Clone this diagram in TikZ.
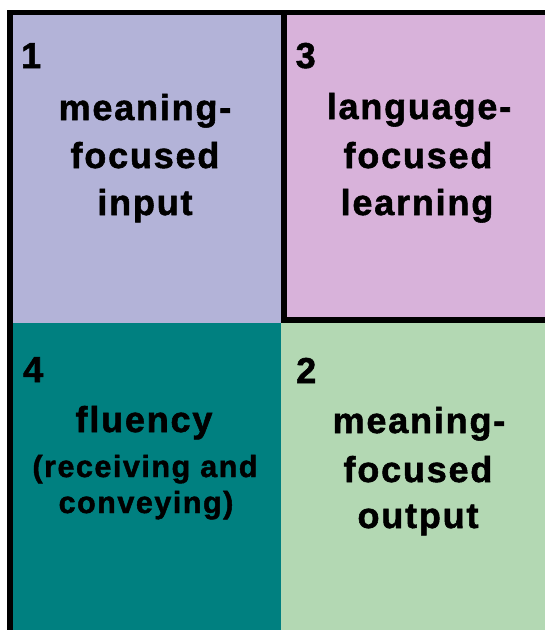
\documentclass[tikz,border=0pt]{standalone}
\usepackage{fontspec}
\newfontfamily\labfont{Liberation Sans}[LetterSpace=5,BoldFeatures={FakeBold=1.5}]
\definecolor{lav}{RGB}{179,179,216}
\definecolor{pinkq}{RGB}{216,178,218}
\definecolor{tealq}{RGB}{0,128,128}
\definecolor{greenq}{RGB}{179,216,179}
\begin{document}
\begin{tikzpicture}[x=1pt,y=-1pt,
  big/.style={anchor=base,inner sep=0pt,font=\labfont\bfseries\fontsize{36}{40}\selectfont},
  small/.style={anchor=base,inner sep=0pt,font=\labfont\bfseries\fontsize{30.5}{34}\selectfont},
  num/.style={anchor=base west,inner sep=0pt,font=\labfont\bfseries\fontsize{36}{40}\selectfont}]
\useasboundingbox (0,0) rectangle (545,630);
% quadrant fills
\fill[lav] (13,15) rectangle (281,323);
\fill[pinkq] (281,15) rectangle (545,323);
\fill[tealq] (13,323) rectangle (281,630);
\fill[greenq] (281,323) rectangle (545,630);
% black borders
\fill[black] (7,10) rectangle (545,15);
\fill[black] (7,10) rectangle (13,630);
\fill[black] (281,15) rectangle (287,323);
\fill[black] (281,317) rectangle (545,323);
% quadrant 1
\node[num] (n1) at (21,68) {1};
\node[big] (t1a) at (145,120) {meaning-};
\node[big] (t1b) at (145,168) {focused};
\node[big] (t1c) at (145,215) {input};
% quadrant 3
\node[num] (n3) at (295.5,68) {3};
\node[big] (t3a) at (419,119) {language-};
\node[big] (t3b) at (418,168) {focused};
\node[big] (t3c) at (417,215) {learning};
% quadrant 4
\node[num] (n4) at (23,382) {4};
\node[big] (t4a) at (144,432) {fluency};
\node[small] (t4b) at (145,477) {(receiving and};
\node[small] (t4c) at (146,513) {conveying)};
% quadrant 2
\node[num] (n2) at (296,383) {2};
\node[big] (t2a) at (419,433) {meaning-};
\node[big] (t2b) at (418,482) {focused};
\node[big] (t2c) at (418,528) {output};
\end{tikzpicture}
\end{document}
